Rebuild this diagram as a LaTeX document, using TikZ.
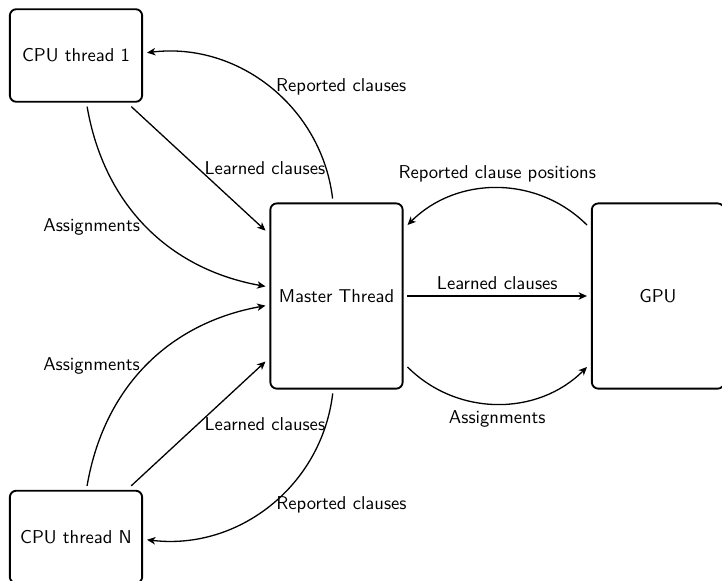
\documentclass[tikz,border=0pt]{standalone}
\usetikzlibrary{arrows.meta}
\begin{document}
\begin{tikzpicture}[x=0.5376pt, y=-0.5376pt,
  every node/.style={font=\sffamily},
  box/.style={draw, line width=1pt, rounded corners=3.5pt, minimum width=2.5cm, outer sep=2.6pt, inner sep=0pt},
  smallbox/.style={box, minimum height=1.75cm},
  tallbox/.style={box, minimum height=3.5cm},
  conn/.style={line width=0.7pt, -{Stealth[length=4.5pt,width=4pt,inset=1.3pt]}},
  lbl/.style={inner sep=0.3333em, outer sep=0pt}]
\useasboundingbox (0,0) rectangle (722,581);
\node[smallbox] (c1) at (76,55.5) {CPU thread 1};
\node[tallbox] (m) at (336.5,296) {Master Thread};
\node[tallbox] (g) at (658,296) {GPU};
\node[smallbox] (cN) at (76,537) {CPU thread N};

\draw[conn] (m) to[bend right=45] node[lbl, right] {Reported clauses} (c1);
\draw[conn] (c1) -- node[lbl, right] {Learned clauses} (m);
\draw[conn] (c1) to[bend right=35] node[lbl, left] {Assignments} (m);

\draw[conn] (cN) to[bend left=35] node[lbl, left] {Assignments} (m);
\draw[conn] (cN) -- node[lbl, right] {Learned clauses} (m);
\draw[conn] (m) to[bend left=45] node[lbl, right] {Reported clauses} (cN);

\draw[conn] (m) -- node[lbl, above] {Learned clauses} (g);
\draw[conn] (g) to[bend right=45] node[lbl, above] {Reported clause positions} (m);
\draw[conn] (m) to[bend right=45] node[lbl, below] {Assignments} (g);
\end{tikzpicture}
\end{document}
